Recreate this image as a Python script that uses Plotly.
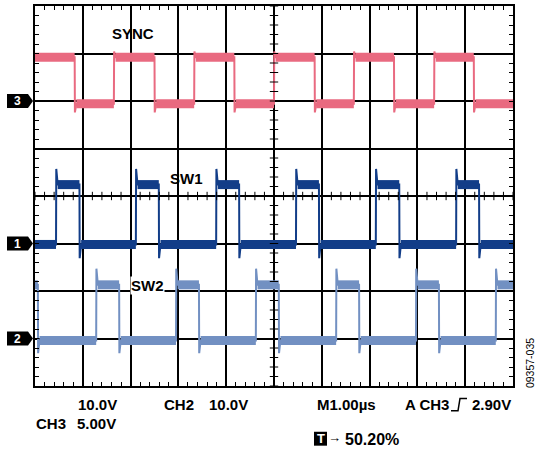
import numpy as np
import plotly.graph_objects as go

# ---- data (time in µs, 1 µs/div) ----
sync_rise_us = [1.65, 3.33, 5.00, 6.67, 8.35]
sync_fall_us = [0.83, 2.50, 4.17, 5.85, 7.51, 9.18]
sw1_rise_us = [0.44, 2.11, 3.79, 5.46, 7.13, 8.81]
sw1_fall_us = [0.93, 2.59, 4.27, 5.94, 7.62, 9.29]
sw2_rise_us = [1.28, 2.95, 4.62, 6.30, 7.97, 9.64]
sw2_fall_us = [0.06, 1.76, 3.43, 5.10, 6.78, 8.45]

# levels in volts: [high, low, overshoot, undershoot]
sync_levels_v = [4.6, -0.3, 5.2, -1.2]
sw1_levels_v = [12.4, -0.2, 15.7, -3.1]
sw2_levels_v = [11.3, -0.4, 14.7, -3.1]

# channel settings: volts/div and ground position (div)
sync_scale, sync_gnd = 5.0, 2.0
sw1_scale, sw1_gnd = 10.0, -1.0
sw2_scale, sw2_gnd = 10.0, -3.0

labels_bottom = ["10.0V", "CH2", "10.0V", "CH3", "5.00V", "M1.00µs", "A CH3", "2.90V"]

T0, T1 = 0.0, 10.0
SETTLE = 0.035


def build(rises, falls, levels, start_high):
    hi, lo, ov, un = levels
    ev = sorted([(t, "r") for t in rises] + [(t, "f") for t in falls])
    xs, ys = [T0], [hi if start_high else lo]
    bx, by = [], []
    seg_start = T0
    state_hi = start_high
    for t, k in ev:
        cur = hi if state_hi else lo
        bx += [seg_start, t, None]
        by += [cur, cur, None]
        xs.append(t); ys.append(cur)
        if k == "r":
            xs += [t + 0.005, t + SETTLE]; ys += [ov, hi]
            state_hi = True
        else:
            xs += [t + 0.005, t + SETTLE]; ys += [un, lo]
            state_hi = False
        seg_start = t + SETTLE
    cur = hi if state_hi else lo
    xs.append(T1); ys.append(cur)
    bx += [seg_start, T1, None]; by += [cur, cur, None]
    return xs, ys, bx, by


def to_div(vals, scale, gnd):
    return [None if v is None else gnd + v / scale for v in vals]


fig = go.Figure()

channels = [
    (sw2_rise_us, sw2_fall_us, sw2_levels_v, True, sw2_scale, sw2_gnd, "#7290c2"),
    (sw1_rise_us, sw1_fall_us, sw1_levels_v, False, sw1_scale, sw1_gnd, "#123d88"),
    (sync_rise_us, sync_fall_us, sync_levels_v, True, sync_scale, sync_gnd, "#e96a80"),
]
for r, f, lv, st, sc, g, col in channels:
    xs, ys, bx, by = build(r, f, lv, st)
    fig.add_trace(go.Scatter(x=bx, y=to_div(by, sc, g), mode="lines",
                             line=dict(color=col, width=9), hoverinfo="skip"))
    fig.add_trace(go.Scatter(x=xs, y=to_div(ys, sc, g), mode="lines",
                             line=dict(color=col, width=2), hoverinfo="skip"))

# centre-line minor ticks
cx = np.round(np.arange(0, 10.001, 0.2), 3)
cy = np.round(np.arange(-4, 4.001, 0.2), 3)
fig.add_trace(go.Scatter(x=cx, y=[0] * len(cx), mode="markers",
                         marker=dict(symbol="line-ns", size=6, line=dict(color="black", width=1)),
                         hoverinfo="skip"))
fig.add_trace(go.Scatter(x=[5] * len(cy), y=cy, mode="markers",
                         marker=dict(symbol="line-ew", size=6, line=dict(color="black", width=1)),
                         hoverinfo="skip"))

W, H = 535, 454
L, R, TOP, BOT = 35, 513, 4, 386


def px(x):
    return (x - L) / (R - L)


def py(y):
    return (BOT - y) / (BOT - TOP)


FONT = "Liberation Sans, Arial, sans-serif"
ann = []


def txt(s, x, y, size=15, xanchor="left", color="black", bg=None, bold=True):
    d = dict(text=("<b>%s</b>" % s) if bold else s, x=px(x), y=py(y), xref="paper", yref="paper",
             xanchor=xanchor, yanchor="middle", showarrow=False,
             font=dict(family=FONT, size=size, color=color))
    if bg:
        d["bgcolor"] = bg
        d["borderpad"] = 0
    ann.append(d)


txt("SYNC", 133, 32, xanchor="center")
txt("SW1", 186, 177, xanchor="center")
txt("SW2", 147, 285, xanchor="center", bg="white")

txt(labels_bottom[0], 76, 405)
txt(labels_bottom[1], 162, 405)
txt(labels_bottom[2], 207, 405)
txt(labels_bottom[3], 34, 424)
txt(labels_bottom[4], 75, 424)
txt(labels_bottom[5], 315, 405)
txt(labels_bottom[6], 403, 405)
txt(labels_bottom[7], 470, 405)
txt("→", 326, 438, size=13)
txt("50.20%", 343, 440, size=16)
txt("T", 320.5, 439, size=13, xanchor="center", color="white")

ann.append(dict(text="09357-035", x=px(530), y=py(363), xref="paper", yref="paper",
                xanchor="center", yanchor="middle", showarrow=False, textangle=-90,
                font=dict(family=FONT, size=10.5, color="black")))

shapes = []
# ground markers
for lab, g in [("3", sync_gnd), ("1", sw1_gnd), ("2", sw2_gnd)]:
    yc = BOT - (g + 4) / 8 * (BOT - TOP)
    path = "M {a},{t} L {b},{t} L {c},{m} L {b},{bt} L {a},{bt} Z".format(
        a=px(7), b=px(28), c=px(33), t=py(yc - 7), m=py(yc), bt=py(yc + 7))
    shapes.append(dict(type="path", path=path, xref="paper", yref="paper",
                       fillcolor="black", line=dict(width=0)))
    txt(lab, 17.5, yc, size=12, xanchor="center", color="white")

# trigger slope symbol
shapes.append(dict(type="path", xref="paper", yref="paper",
                   path="M {},{} L {},{} L {},{} L {},{}".format(px(451), py(411), px(458), py(411),
                                                                 px(460), py(398.5), px(467), py(398.5)),
                   line=dict(color="black", width=1.5)))
# T box
shapes.append(dict(type="rect", xref="paper", yref="paper", x0=px(314), x1=px(327),
                   y0=py(446), y1=py(432), fillcolor="black", line=dict(width=0)))

axis_common = dict(showgrid=True, gridcolor="black", gridwidth=1.5, zeroline=False,
                   showline=True, linecolor="black", linewidth=2, mirror="allticks",
                   ticks="inside", ticklen=4, tickcolor="black", tickwidth=1,
                   showticklabels=False, dtick=1, fixedrange=True,
                   minor=dict(ticks="inside", dtick=0.2, ticklen=4, tickcolor="black",
                              tickwidth=1, showgrid=False))

fig.update_layout(
    width=W, height=H, margin=dict(l=L, r=W - R, t=TOP, b=H - BOT),
    paper_bgcolor="white", plot_bgcolor="white", showlegend=False,
    xaxis=dict(range=[T0, T1], tick0=0, **axis_common),
    yaxis=dict(range=[-4, 4], tick0=-4, **axis_common),
    annotations=ann, shapes=shapes,
)
fig.write_html("out.html", config={"displayModeBar": False},
               post_script="document.body.style.margin='0';document.body.style.overflow='hidden';")
